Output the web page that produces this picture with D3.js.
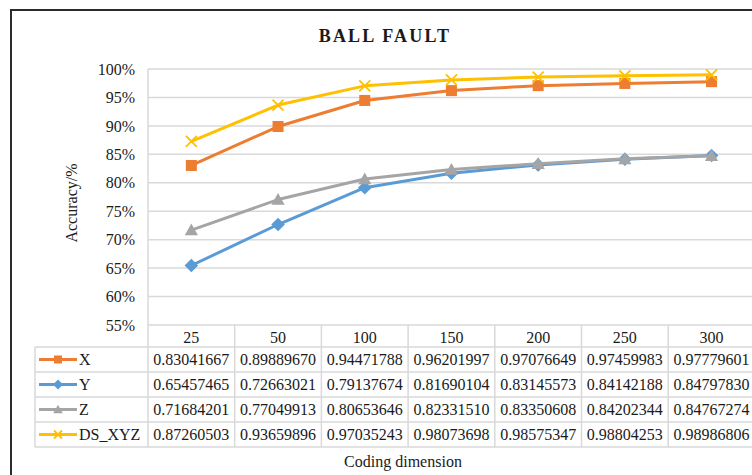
<!DOCTYPE html>
<html>
<head>
<meta charset="utf-8">
<script src="https://cdn.jsdelivr.net/npm/d3@7"></script>
<style>
  html, body { margin: 0; padding: 0; background: #fff; }
  svg { display: block; }
  svg text { font-family: "Liberation Serif", "Times New Roman", serif !important; }
</style>
</head>
<body>
<svg id="chart" width="752" height="475"></svg>
<script>
// Coding dimensions (x categories)
const categories = ["25", "50", "100", "150", "200", "250", "300"];

// Accuracy per axis for each coding dimension
const seriesNames = ["X", "Y", "Z", "DS_XYZ"];
const valuesX   = [0.83041667, 0.89889670, 0.94471788, 0.96201997, 0.97076649, 0.97459983, 0.97779601];
const valuesY   = [0.65457465, 0.72663021, 0.79137674, 0.81690104, 0.83145573, 0.84142188, 0.84797830];
const valuesZ   = [0.71684201, 0.77049913, 0.80653646, 0.82331510, 0.83350608, 0.84202344, 0.84767274];
const valuesDS  = [0.87260503, 0.93659896, 0.97035243, 0.98073698, 0.98575347, 0.98804253, 0.98986806];

// Y axis ticks
const yTicks = [0.55, 0.60, 0.65, 0.70, 0.75, 0.80, 0.85, 0.90, 0.95, 1.00];

const series = [
  { name: seriesNames[0], values: valuesX,  color: "#ED7D31", marker: "square" },
  { name: seriesNames[1], values: valuesY,  color: "#5B9BD5", marker: "diamond" },
  { name: seriesNames[2], values: valuesZ,  color: "#A5A5A5", marker: "triangle" },
  { name: seriesNames[3], values: valuesDS, color: "#FFC000", marker: "cross" }
];

const svg = d3.select("#chart");
const W = 752, H = 475;

// Layout
const plotLeft = 148, colW = 86.7;
const plotRight = plotLeft + colW * categories.length;
const plotTop = 69, plotBottom = 325;
const headerH = 22, rowH = 25;
const legendLeft = 35;
const gridColor = "#D9D9D9";
const textColor = "#1a1a1a";

const x = d3.scaleBand().domain(categories).range([plotLeft, plotRight]).padding(0);
const y = d3.scaleLinear().domain([0.55, 1.0]).range([plotBottom, plotTop]);

// Outer chart frame
svg.append("rect")
  .attr("x", 11).attr("y", 10)
  .attr("width", W + 20).attr("height", H + 20)
  .attr("fill", "#fff").attr("stroke", "#2b2b2b").attr("stroke-width", 2);

// Title
svg.append("text")
  .attr("x", 385).attr("y", 42)
  .attr("text-anchor", "middle")
  .attr("font-size", 18).attr("font-weight", "bold")
  .attr("letter-spacing", 2.2)
  .attr("fill", textColor)
  .text("BALL FAULT");

// Horizontal gridlines
svg.append("g").selectAll("line").data(yTicks).join("line")
  .attr("x1", plotLeft).attr("x2", plotRight)
  .attr("y1", d => y(d)).attr("y2", d => y(d))
  .attr("stroke", gridColor).attr("stroke-width", 1.5);

// Left edge of plot area
svg.append("line")
  .attr("x1", plotLeft).attr("x2", plotLeft)
  .attr("y1", plotTop).attr("y2", plotBottom + headerH + rowH * 4)
  .attr("stroke", gridColor).attr("stroke-width", 1.5);

// Y axis labels
const yAxis = d3.axisLeft(y).tickValues(yTicks).tickFormat(d3.format(".0%")).tickSize(0).tickPadding(13);
const yg = svg.append("g").attr("transform", `translate(${plotLeft},0)`).call(yAxis);
yg.attr("font-family", null).attr("font-size", null);
yg.select(".domain").remove();
yg.selectAll("text")
  .attr("font-size", 16).attr("fill", textColor);

// Y axis title
svg.append("text")
  .attr("transform", `translate(77,203) rotate(-90)`)
  .attr("text-anchor", "middle")
  .attr("font-size", 16).attr("fill", textColor)
  .text("Accuracy/%");

// Marker drawing
function drawMarker(g, type, color, s) {
  if (type === "square") {
    g.append("rect").attr("x", -s / 2).attr("y", -s / 2).attr("width", s).attr("height", s).attr("fill", color);
  } else if (type === "diamond") {
    const r = s * 0.62;
    g.append("path").attr("d", `M0,${-r}L${r},0L0,${r}L${-r},0Z`).attr("fill", color);
  } else if (type === "triangle") {
    const r = s * 0.6;
    g.append("path").attr("d", `M0,${-r}L${r},${r * 0.8}L${-r},${r * 0.8}Z`).attr("fill", color);
  } else if (type === "cross") {
    const r = s * 0.5;
    g.append("path").attr("d", `M${-r},${-r}L${r},${r}M${-r},${r}L${r},${-r}`)
      .attr("stroke", color).attr("stroke-width", 1.8).attr("fill", "none");
  }
}

// Lines and markers
const line = d3.line()
  .x((d, i) => x(categories[i]) + x.bandwidth() / 2)
  .y(d => y(d));

series.forEach(s => {
  svg.append("path")
    .datum(s.values)
    .attr("d", line)
    .attr("fill", "none")
    .attr("stroke", s.color)
    .attr("stroke-width", 3)
    .attr("stroke-linejoin", "round");
  s.values.forEach((v, i) => {
    const g = svg.append("g")
      .attr("transform", `translate(${x(categories[i]) + x.bandwidth() / 2},${y(v)})`);
    drawMarker(g, s.marker, s.color, 11);
  });
});

// Data table
const table = svg.append("g");
const tableTop = plotBottom;
const rowsTop = tableTop + headerH;
const tableBottom = rowsTop + rowH * series.length;

// Column separators
categories.forEach(c => {
  table.append("line")
    .attr("x1", x(c) + x.bandwidth()).attr("x2", x(c) + x.bandwidth())
    .attr("y1", tableTop).attr("y2", tableBottom)
    .attr("stroke", gridColor).attr("stroke-width", 1.5);
});
// Legend column left edge
table.append("line")
  .attr("x1", legendLeft).attr("x2", legendLeft)
  .attr("y1", rowsTop).attr("y2", tableBottom)
  .attr("stroke", gridColor).attr("stroke-width", 1.5);
// Row separators
d3.range(series.length + 1).forEach(k => {
  table.append("line")
    .attr("x1", legendLeft).attr("x2", plotRight)
    .attr("y1", rowsTop + k * rowH).attr("y2", rowsTop + k * rowH)
    .attr("stroke", gridColor).attr("stroke-width", 1.5);
});

// Header: category labels
table.selectAll("text.cat").data(categories).join("text")
  .attr("class", "cat")
  .attr("x", d => x(d) + x.bandwidth() / 2)
  .attr("y", tableTop + headerH / 2 + 1)
  .attr("dy", "0.35em")
  .attr("text-anchor", "middle")
  .attr("font-size", 16).attr("fill", textColor)
  .text(d => d);

// Rows: legend key + values
series.forEach((s, r) => {
  const cy = rowsTop + r * rowH + rowH / 2;
  table.append("line")
    .attr("x1", 39).attr("x2", 77).attr("y1", cy).attr("y2", cy)
    .attr("stroke", s.color).attr("stroke-width", 3);
  const g = table.append("g").attr("transform", `translate(58,${cy})`);
  drawMarker(g, s.marker, s.color, 8);
  table.append("text")
    .attr("x", 79).attr("y", cy).attr("dy", "0.35em")
    .attr("font-size", 16).attr("fill", textColor)
    .text(s.name);
  table.selectAll(null).data(s.values).join("text")
    .attr("x", (d, i) => x(categories[i]) + x.bandwidth() / 2)
    .attr("y", cy).attr("dy", "0.35em")
    .attr("text-anchor", "middle")
    .attr("font-size", 16).attr("fill", textColor)
    .text(d => d.toFixed(8));
});

// X axis title
svg.append("text")
  .attr("x", 403).attr("y", 467)
  .attr("text-anchor", "middle")
  .attr("font-size", 16).attr("fill", textColor)
  .text("Coding dimension");
</script>
</body>
</html>
